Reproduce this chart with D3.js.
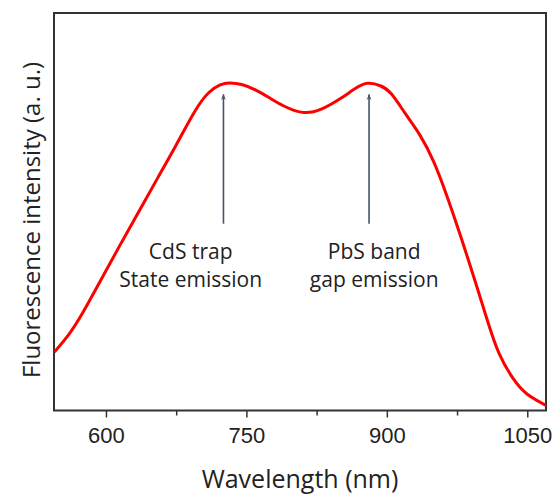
<!DOCTYPE html>
<meta charset="utf-8">
<script src="https://d3js.org/d3.v7.min.js"></script>
<style>
  body { margin: 0; background: #fff; }
  .lbl { font-family: "Open Sans", Lato, sans-serif; fill: #222; }
  .tick text { font-family: "Liberation Sans", Arial, sans-serif; font-size: 22px; fill: #222; }
</style>
<body>
<div id="chart"></div>
<script>
// spectrum
var wavelength = [545, 560, 575, 595, 615, 635, 655, 675, 695, 710, 722, 732, 745, 760, 775, 790, 810,
                  830, 850, 865, 879, 893, 905, 920, 935, 950, 965, 980, 995, 1008, 1020, 1035, 1050, 1070];
var intensity  = [14.7, 19.0, 24.5, 33.0, 41.6, 50.0, 58.4, 66.8, 75.3, 80.0, 81.9, 82.4, 82.0, 80.6, 78.6, 76.6, 75.0,
                  75.8, 78.4, 80.8, 82.3, 81.7, 79.6, 74.6, 69.4, 62.6, 53.4, 43.0, 32.0, 22.2, 14.3, 8.0, 4.1, 1.3];

var majorTicks = [600, 750, 900, 1050];
var minorTicks = [675, 825, 975];

// annotations
var arrowAt   = [725.5, 881];
var arrowFrom = 47, arrowTo = 79.5;
var labelAt   = [690.5, 886.5];
var labelLines = [["CdS trap", "State emission"], ["PbS band", "gap emission"]];

var margin = {top: 13, right: 9, bottom: 84.5, left: 54},
    width = 555 - margin.left - margin.right,
    height = 495 - margin.top - margin.bottom;

var svg = d3.select("#chart").append("svg")
    .attr("width", 555).attr("height", 495);

var defs = svg.append("defs");
defs.append("marker")
    .attr("id", "head")
    .attr("viewBox", "0 0 10 10")
    .attr("refX", 9).attr("refY", 5)
    .attr("markerWidth", 6).attr("markerHeight", 6)
    .attr("markerUnits", "userSpaceOnUse")
    .attr("orient", "auto")
  .append("path")
    .attr("d", "M0,1 L10,5 L0,9 L3,5 Z")
    .attr("fill", "#44546a");
defs.append("clipPath").attr("id", "clip")
  .append("rect").attr("width", width).attr("height", height);

var g = svg.append("g")
    .attr("transform", "translate(" + margin.left + "," + margin.top + ")");

var x = d3.scaleLinear().domain([544.5, 1070]).range([0, width]);
var y = d3.scaleLinear().domain([0, 100]).range([height, 0]);

// bottom axis with major + minor ticks
var xAxis = g.append("g")
    .attr("transform", "translate(0," + height + ")")
    .call(d3.axisBottom(x).tickValues(majorTicks).tickSize(7).tickPadding(10).tickFormat(d3.format("d")));
xAxis.select(".domain").remove();
xAxis.selectAll(".tick line").attr("stroke", "#333").attr("stroke-width", 1.5);

g.append("g")
    .attr("transform", "translate(0," + height + ")")
    .call(d3.axisBottom(x).tickValues(minorTicks).tickSize(5).tickFormat(""))
  .call(function(s) {
    s.select(".domain").remove();
    s.selectAll(".tick line").attr("stroke", "#333").attr("stroke-width", 1.5);
  });

// frame
g.append("rect")
    .attr("width", width).attr("height", height)
    .attr("fill", "none").attr("stroke", "#333").attr("stroke-width", 2);

// curve
var line = d3.line()
    .x(function(d, i) { return x(wavelength[i]); })
    .y(function(d) { return y(d); })
    .curve(d3.curveNatural);

g.append("path")
    .datum(intensity)
    .attr("clip-path", "url(#clip)")
    .attr("d", line)
    .attr("fill", "none")
    .attr("stroke", "#ff0000")
    .attr("stroke-width", 3);

// arrows
g.selectAll(".arrow")
    .data(arrowAt)
    .enter().append("line")
    .attr("x1", function(d) { return x(d); })
    .attr("x2", function(d) { return x(d); })
    .attr("y1", y(arrowFrom))
    .attr("y2", y(arrowTo))
    .attr("stroke", "#44546a")
    .attr("stroke-width", 1.6)
    .attr("marker-end", "url(#head)");

// annotation text
labelLines.forEach(function(lines, k) {
  var t = g.append("text")
      .attr("class", "lbl")
      .attr("text-anchor", "middle")
      .attr("font-size", 21);
  lines.forEach(function(s, j) {
    t.append("tspan")
      .attr("x", x(labelAt[k]))
      .attr("y", 246 + j * 28)
      .text(s);
  });
});

// axis titles
svg.append("text")
    .attr("class", "lbl")
    .attr("x", 300).attr("y", 488)
    .attr("text-anchor", "middle")
    .attr("font-size", 25)
    .text("Wavelength (nm)");

svg.append("text")
    .attr("class", "lbl")
    .attr("transform", "translate(40,220) rotate(-90)")
    .attr("text-anchor", "middle")
    .attr("font-size", 24)
    .text("Fluorescence intensity (a. u.)");
</script>
</body>
